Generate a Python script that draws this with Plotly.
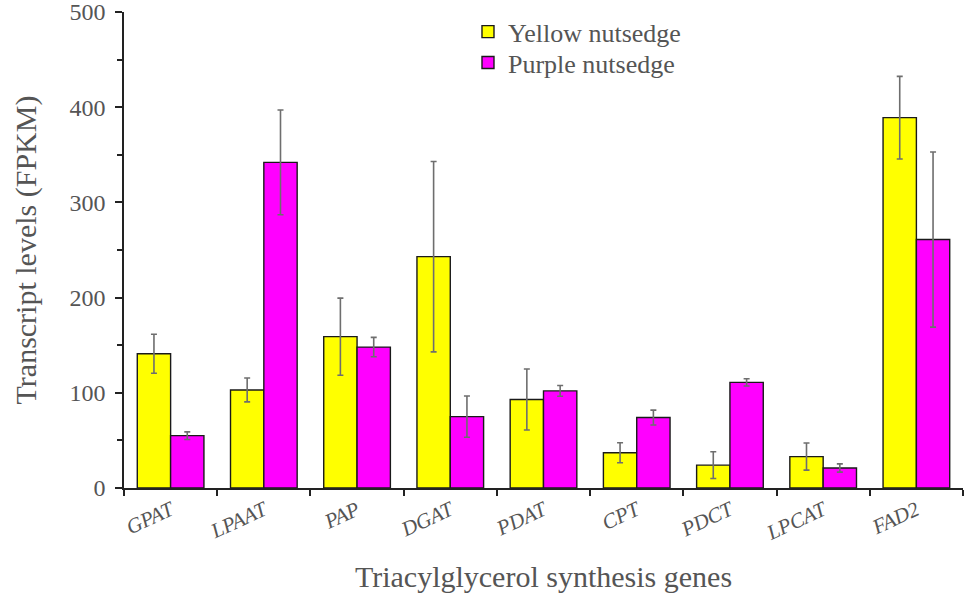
import plotly.graph_objects as go

# Triacylglycerol synthesis genes and their transcript levels (FPKM)
genes = ["GPAT", "LPAAT", "PAP", "DGAT", "PDAT", "CPT", "PDCT", "LPCAT", "FAD2"]
yellow_fpkm = [141, 103, 159, 243, 93, 37, 24, 33, 389]
yellow_err = [20.5, 12.5, 40.5, 100, 32, 10.5, 14, 14.2, 43.4]
purple_fpkm = [55, 342, 148, 75, 102, 74, 111, 21, 261]
purple_err = [4, 55, 10.2, 21.7, 5.6, 7.8, 3.8, 4.3, 92]

serif = "Liberation Serif, Times New Roman, serif"
text_gray = "#555555"
err_gray = "#6e6e6e"

fig = go.Figure()
fig.add_trace(go.Bar(
    name="Yellow nutsedge", x=genes, y=yellow_fpkm,
    legend="legend", showlegend=True,
    marker=dict(color="#FFFF00", line=dict(color="#1a1a1a", width=1.4)),
    error_y=dict(type="data", array=yellow_err, visible=True,
                 color=err_gray, thickness=1.6, width=3),
))
fig.add_trace(go.Bar(
    name="Purple nutsedge", x=genes, y=purple_fpkm,
    legend="legend2", showlegend=True,
    marker=dict(color="#FF00FF", line=dict(color="#1a1a1a", width=1.4)),
    error_y=dict(type="data", array=purple_err, visible=True,
                 color=err_gray, thickness=1.6, width=3),
))

legend_style = dict(
    x=0.41, xanchor="left", yanchor="top", visible=True,
    font=dict(family=serif, size=26, color=text_gray),
    bgcolor="rgba(0,0,0,0)", itemwidth=30,
)

fig.update_layout(
    width=967, height=604,
    showlegend=True,
    margin=dict(l=124, r=4, t=12, b=116, autoexpand=False),
    paper_bgcolor="white", plot_bgcolor="white",
    barmode="group", bargap=0.285, bargroupgap=0,
    font=dict(family=serif, color=text_gray),
    legend=dict(y=1.008, **legend_style),
    legend2=dict(y=0.943, **legend_style),
    xaxis=dict(
        type="category", tickson="boundaries",
        range=[-0.5, 8.5], automargin=False,
        showline=True, linecolor="#222222", linewidth=1.5,
        ticks="outside", ticklen=6, tickcolor="#222222", tickwidth=1.5,
        tickangle=-25,
        tickfont=dict(family=serif, size=21, color=text_gray, style="italic"),
        title=dict(text="Triacylglycerol synthesis genes",
                   font=dict(family=serif, size=30, color=text_gray),
                   standoff=22),
        showgrid=False, zeroline=False,
    ),
    yaxis=dict(
        range=[0, 500], dtick=100, automargin=False,
        ticklabeloverflow="allow",
        showline=True, linecolor="#222222", linewidth=1.5,
        ticks="outside", ticklen=7, tickcolor="#222222", tickwidth=1.5,
        minor=dict(dtick=50, ticks="outside", ticklen=5,
                   tickcolor="#222222", tickwidth=1.5, showgrid=False),
        tickfont=dict(family=serif, size=24, color=text_gray),
        ticklabelstandoff=5,
        title=dict(text="Transcript levels (FPKM)",
                   font=dict(family=serif, size=30, color=text_gray),
                   standoff=24),
        showgrid=False, zeroline=False,
    ),
)

fig.write_html("out.html")
